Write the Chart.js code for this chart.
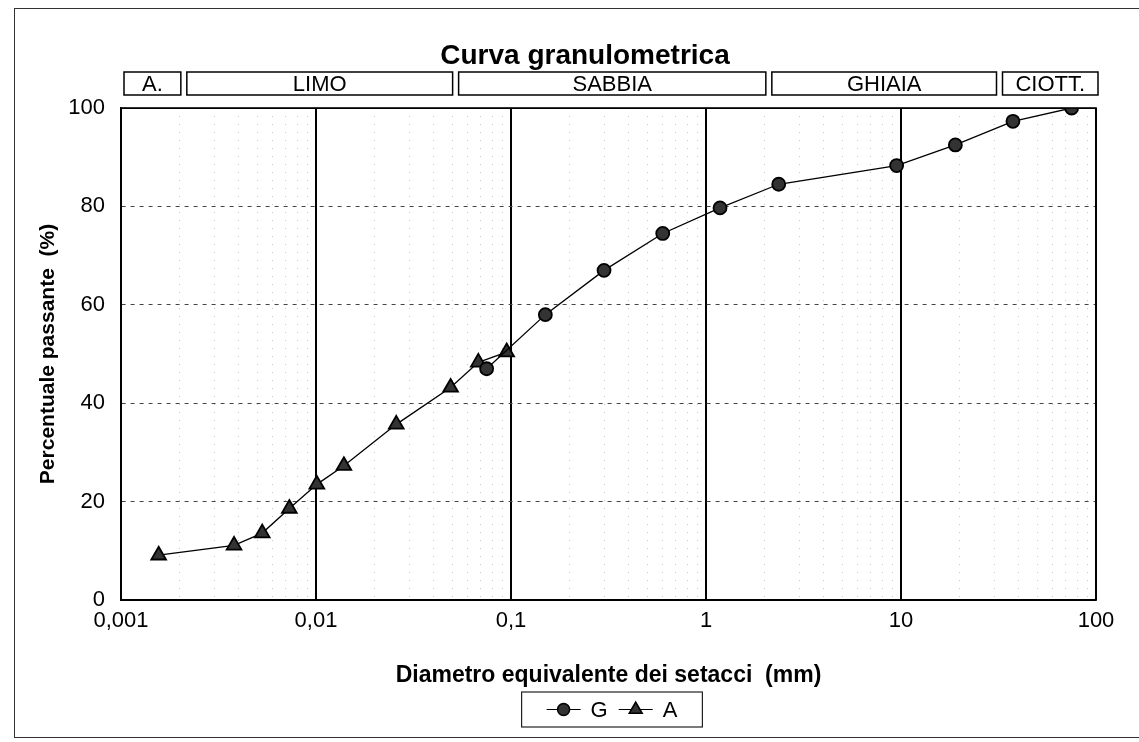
<!DOCTYPE html>
<html>
<head>
<meta charset="utf-8">
<script src="https://cdn.jsdelivr.net/npm/chart.js@4.4.1/dist/chart.umd.min.js"></script>
<style>
html,body{margin:0;padding:0;background:#fff;}
#wrap{width:1139px;height:742px;position:relative;}
</style>
</head>
<body>
<div id="wrap"><canvas id="c" width="1139" height="742"></canvas></div>
<script>
// ---- text ----
const chartTitle = 'Curva granulometrica';
const xAxisTitle = 'Diametro equivalente dei setacci  (mm)';
const yAxisTitle = 'Percentuale passante  (%)';

// ---- ticks ----
const xDecades = [0.001, 0.01, 0.1, 1, 10, 100];
const xTickLabels = ['0,001', '0,01', '0,1', '1', '10', '100'];
const yTicks = [0, 20, 40, 60, 80, 100];

// ---- soil classes (top band) ----
const classNames = ['A.', 'LIMO', 'SABBIA', 'GHIAIA', 'CIOTT.'];
const classBounds = [0.001, 0.0021, 0.052, 2.1, 32, 100];

// ---- series G (sieves) ----
const gLabel = 'G';
const gDiam = [0.075, 0.15, 0.3, 0.6, 1.18, 2.36, 9.5, 19, 37.5, 75];
const gPass = [47.0, 58.0, 67.0, 74.5, 79.7, 84.5, 88.3, 92.5, 97.3, 100];

// ---- series A (sedimentation) ----
const aLabel = 'A';
const aDiam = [0.00156, 0.0038, 0.0053, 0.0073, 0.0101, 0.0139, 0.0258, 0.049, 0.068, 0.095];
const aPass = [9.1, 11.1, 13.6, 18.6, 23.5, 27.3, 35.7, 43.2, 48.3, 50.4];

const FONT = '"Liberation Sans", Arial, Helvetica, sans-serif';
Chart.defaults.font.family = FONT;
Chart.defaults.color = '#000';

function isDecade(v) {
  return xDecades.some(d => Math.abs(v / d - 1) < 1e-6);
}

// grid positions for the log axis (1..9 x each decade)
const minorMult = [1, 2, 3, 4, 5, 6, 7, 8, 9];

function drawMarker(ctx, style, x, y, r) {
  ctx.beginPath();
  if (style === 'triangle') {
    ctx.moveTo(x, y - r);
    ctx.lineTo(x + 0.866 * r, y + 0.5 * r);
    ctx.lineTo(x - 0.866 * r, y + 0.5 * r);
    ctx.closePath();
  } else {
    ctx.arc(x, y, r, 0, Math.PI * 2);
  }
  ctx.fill();
  ctx.stroke();
}

const decor = {
  id: 'decor',
  beforeDraw(chart) {
    const ctx = chart.ctx;
    ctx.save();
    ctx.fillStyle = '#fff';
    ctx.fillRect(0, 0, chart.width, chart.height);
    ctx.restore();
  },
  afterDraw(chart) {
    const {ctx, chartArea: a} = chart;
    const x = chart.scales.x;
    ctx.save();
    // page frame
    ctx.setLineDash([]);
    ctx.strokeStyle = '#333';
    ctx.lineWidth = 1;
    ctx.strokeRect(14.5, 8.5, 1140, 729);
    // plot frame
    ctx.strokeStyle = '#000';
    ctx.lineWidth = 1.6;
    ctx.strokeRect(a.left, a.top, a.right - a.left, a.bottom - a.top);
    // title
    ctx.fillStyle = '#000';
    ctx.font = 'bold 28px ' + FONT;
    ctx.textAlign = 'center';
    ctx.textBaseline = 'middle';
    ctx.fillText(chartTitle, 585, 56);
    // class boxes
    ctx.font = '22px ' + FONT;
    ctx.lineWidth = 1.5;
    for (let i = 0; i < classNames.length; i++) {
      let x0 = x.getPixelForValue(classBounds[i]) + 3;
      let x1 = x.getPixelForValue(classBounds[i + 1]) - 3;
      if (i === classNames.length - 1) x1 += 5;
      ctx.strokeRect(x0, 72, x1 - x0, 23);
      ctx.fillText(classNames[i], (x0 + x1) / 2, 85);
    }
    // legend
    const items = chart.data.datasets.map(ds => ({label: ds.label, style: ds.pointStyle}));
    ctx.font = '22px ' + FONT;
    const lineLen = 34, gapText = 10, gapItem = 11, padX = 25;
    let total = padX * 2;
    items.forEach((it, i) => {
      total += lineLen + gapText + ctx.measureText(it.label).width + (i < items.length - 1 ? gapItem : 0);
    });
    const cx = 612, top = 692, h = 35;
    const lx = cx - total / 2;
    ctx.strokeStyle = '#222';
    ctx.lineWidth = 1.2;
    ctx.strokeRect(lx, top, total, h);
    let px = lx + padX;
    const cy = top + h / 2;
    items.forEach((it) => {
      ctx.strokeStyle = '#000';
      ctx.lineWidth = 1.2;
      ctx.beginPath();
      ctx.moveTo(px, cy);
      ctx.lineTo(px + lineLen, cy);
      ctx.stroke();
      ctx.fillStyle = '#333';
      ctx.lineWidth = 1.5;
      drawMarker(ctx, it.style, px + lineLen / 2, cy, it.style === 'triangle' ? 7.5 : 6);
      ctx.fillStyle = '#000';
      ctx.textAlign = 'left';
      ctx.fillText(it.label, px + lineLen + gapText, cy + 1);
      px += lineLen + gapText + ctx.measureText(it.label).width + gapItem;
    });
    ctx.restore();
  }
};

new Chart(document.getElementById('c'), {
  type: 'line',
  data: {
    datasets: [
      {
        label: gLabel,
        data: gDiam.map((d, i) => ({x: d, y: gPass[i]})),
        pointStyle: 'circle',
        pointRadius: 6.5,
        pointBackgroundColor: '#333',
        pointBorderColor: '#000',
        pointBorderWidth: 1.8,
        borderColor: '#000',
        borderWidth: 1.3,
        tension: 0,
        fill: false
      },
      {
        label: aLabel,
        data: aDiam.map((d, i) => ({x: d, y: aPass[i]})),
        pointStyle: 'triangle',
        pointRadius: 8.5,
        pointBackgroundColor: '#333',
        pointBorderColor: '#000',
        pointBorderWidth: 1.8,
        borderColor: '#000',
        borderWidth: 1.3,
        tension: 0,
        fill: false
      }
    ]
  },
  options: {
    responsive: false,
    animation: false,
    devicePixelRatio: 1,
    layout: {padding: {left: 14, right: 43, top: 108, bottom: 50}},
    plugins: {
      legend: {display: false},
      title: {display: false},
      tooltip: {enabled: false}
    },
    scales: {
      x: {
        type: 'logarithmic',
        min: xDecades[0],
        max: xDecades[xDecades.length - 1],
        afterBuildTicks: (s) => {
          const vals = [];
          for (let k = 0; k < xDecades.length - 1; k++) {
            minorMult.forEach(m => vals.push(m * xDecades[k]));
          }
          vals.push(xDecades[xDecades.length - 1]);
          s.ticks = vals.map(v => ({value: v}));
        },
        afterFit: (s) => { s.height = 92; },
        ticks: {
          autoSkip: false,
          maxRotation: 0,
          padding: 8,
          font: {size: 22},
          color: '#000',
          callback: (v) => {
            const i = xDecades.findIndex(d => Math.abs(v / d - 1) < 1e-6);
            return i >= 0 ? xTickLabels[i] : '';
          }
        },
        grid: {
          drawTicks: false,
          color: (c) => (c.tick && isDecade(c.tick.value)) ? '#000' : 'rgba(0,0,0,0.22)',
          lineWidth: (c) => (c.tick && isDecade(c.tick.value)) ? 2 : 1
        },
        border: {
          color: '#000',
          width: 1.6,
          dash: (c) => (c.tick && !isDecade(c.tick.value)) ? [1, 7] : []
        },
        title: {
          display: true,
          text: xAxisTitle,
          font: {size: 23, weight: 'bold'},
          color: '#000',
          padding: {top: 0, bottom: 3}
        }
      },
      y: {
        min: yTicks[0],
        max: yTicks[yTicks.length - 1],
        afterBuildTicks: (s) => { s.ticks = yTicks.map(v => ({value: v})); },
        afterFit: (s) => { s.width = 107; },
        ticks: {
          padding: 16,
          font: {size: 22},
          color: '#000'
        },
        grid: {
          drawTicks: false,
          color: (c) => (c.tick && (c.tick.value === yTicks[0] || c.tick.value === yTicks[yTicks.length - 1])) ? '#000' : '#444',
          lineWidth: 1
        },
        border: {
          color: '#000',
          width: 1.6,
          dash: (c) => (c.tick && c.tick.value > yTicks[0] && c.tick.value < yTicks[yTicks.length - 1]) ? [4, 5] : []
        },
        title: {
          display: true,
          text: yAxisTitle,
          font: {size: 21, weight: 'bold'},
          color: '#000',
          padding: {top: 22, bottom: 0}
        }
      }
    }
  },
  plugins: [decor]
});
</script>
</body>
</html>
